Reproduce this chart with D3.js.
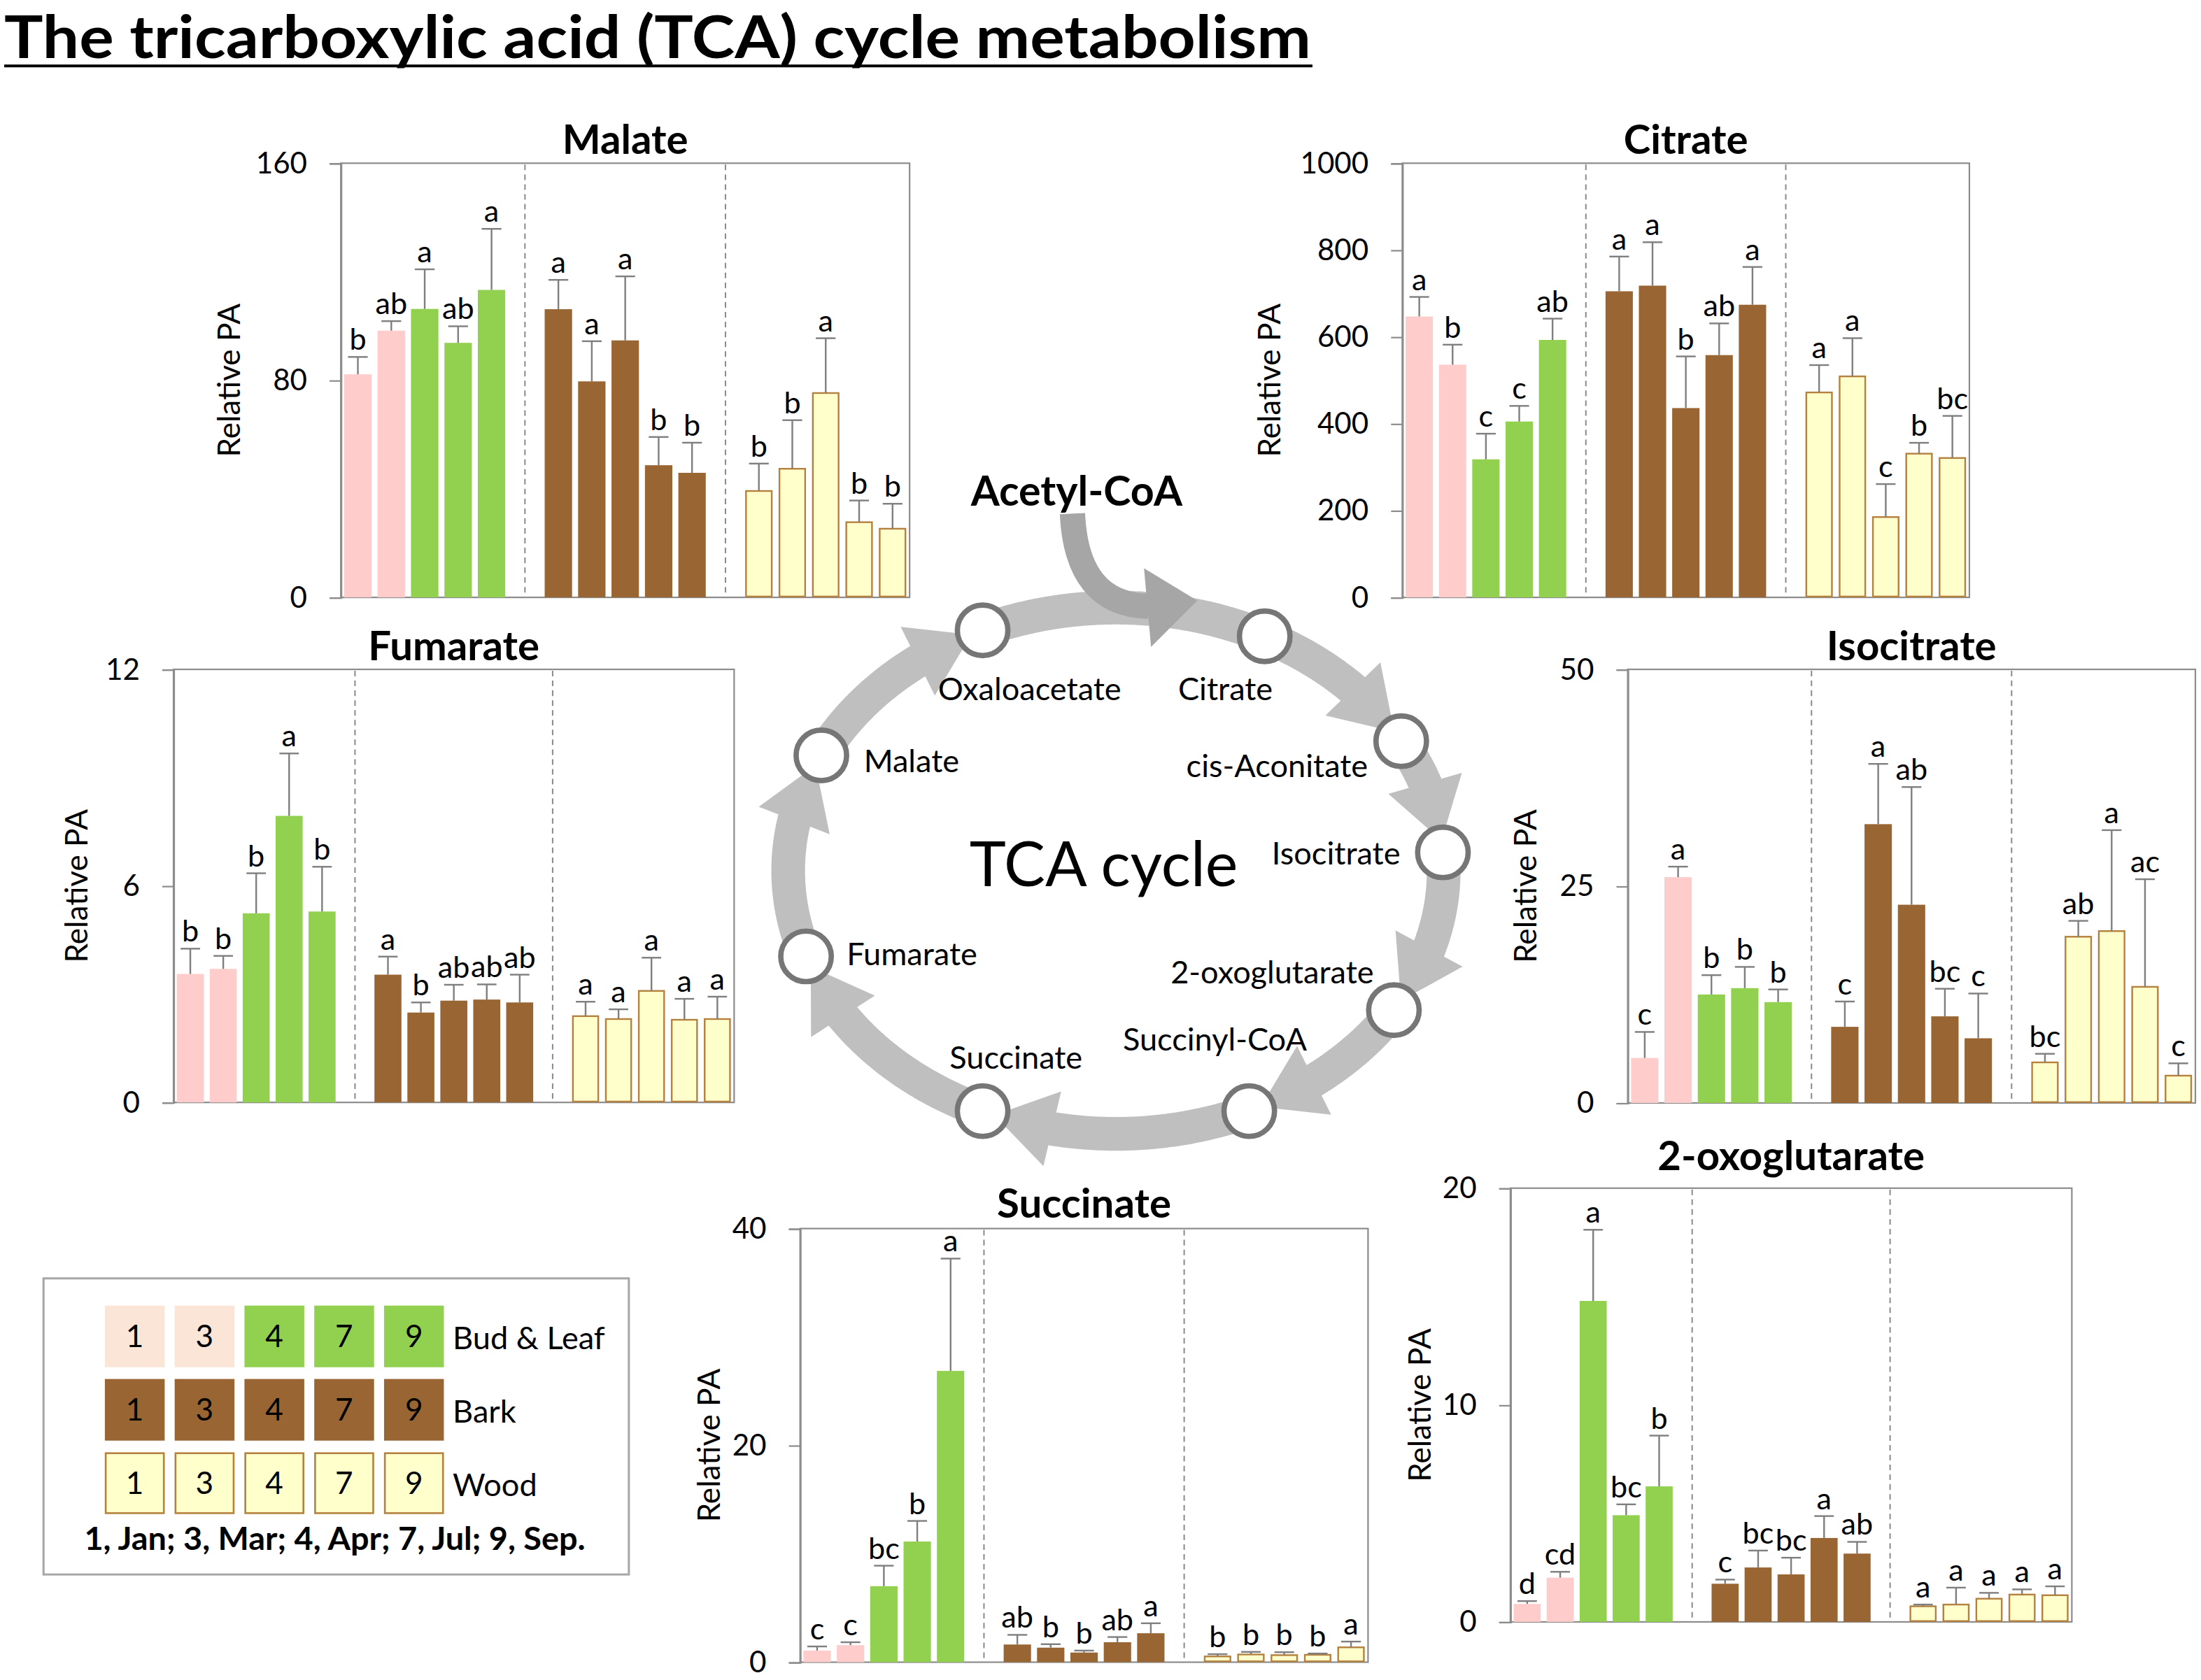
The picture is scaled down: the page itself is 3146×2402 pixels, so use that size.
<!DOCTYPE html>
<html>
<head>
<meta charset="utf-8">
<script src="https://cdn.jsdelivr.net/npm/d3@7"></script>
<style>
  body { margin: 0; background: #fff; }
  text { font-family: Lato, "Open Sans", sans-serif; }
</style>
</head>
<body>
<div id="chart"></div>
<script>
// categories
const months = ["1", "3", "4", "7", "9"];
const tissues = ["Bud & Leaf", "Bark", "Wood"];
const monthNote = "1, Jan; 3, Mar; 4, Apr; 7, Jul; 9, Sep.";

// values: 5 months x (bud&leaf, bark, wood)
const malateMean = [82.2, 98.3, 106.3, 93.8, 113.3, 106.2, 79.6, 94.7, 48.7, 45.9, 39.2, 47.4, 75.3, 27.7, 25.3];
const malateErr = [6.4, 3.5, 14.6, 6.1, 22.5, 10.8, 14.8, 23.6, 10.4, 11.1, 10.1, 17.9, 20.2, 8.0, 9.2];
const malateLetters = ["b", "ab", "a", "ab", "a", "a", "a", "a", "b", "b", "b", "b", "a", "b", "b"];
const malateTicks = [0, 80, 160];

const citrateMean = [647, 536, 318, 405, 593, 705, 718, 436, 558, 674, 472, 509, 185, 331, 321];
const citrateErr = [45, 46, 59, 36, 49, 80, 100, 119, 73, 87, 63, 88, 76, 25, 97];
const citrateLetters = ["a", "b", "c", "c", "ab", "a", "a", "b", "ab", "a", "a", "a", "c", "b", "bc"];
const citrateTicks = [0, 200, 400, 600, 800, 1000];

const fumarateMean = [3.56, 3.70, 5.24, 7.94, 5.29, 3.54, 2.49, 2.82, 2.85, 2.77, 2.39, 2.31, 3.09, 2.29, 2.31];
const fumarateErr = [0.70, 0.36, 1.11, 1.73, 1.24, 0.50, 0.28, 0.44, 0.42, 0.77, 0.40, 0.27, 0.92, 0.58, 0.62];
const fumarateLetters = ["b", "b", "b", "a", "b", "a", "b", "ab", "ab", "ab", "a", "a", "a", "a", "a"];
const fumarateTicks = [0, 6, 12];

const isocitrateMean = [5.19, 26.04, 12.51, 13.24, 11.63, 8.78, 32.15, 22.86, 9.99, 7.46, 4.68, 19.17, 19.82, 13.39, 3.15];
const isocitrateErr = [3.00, 1.21, 2.23, 2.45, 1.46, 2.92, 6.95, 13.57, 3.18, 5.16, 0.99, 1.83, 11.64, 12.41, 1.42];
const isocitrateLetters = ["c", "a", "b", "b", "b", "c", "a", "ab", "bc", "c", "bc", "ab", "a", "ac", "c"];
const isocitrateTicks = [0, 25, 50];

const succinateMean = [1.07, 1.57, 7.01, 11.13, 26.87, 1.63, 1.34, 0.89, 1.84, 2.67, 0.53, 0.71, 0.65, 0.68, 1.37];
const succinateErr = [0.38, 0.27, 1.89, 1.90, 10.36, 0.89, 0.32, 0.18, 0.48, 0.92, 0.21, 0.24, 0.27, 0.12, 0.53];
const succinateLetters = ["c", "c", "bc", "b", "a", "ab", "b", "b", "ab", "a", "b", "b", "b", "b", "a"];
const succinateTicks = [0, 20, 40];

const oxoMean = [0.83, 2.04, 14.80, 4.92, 6.25, 1.76, 2.51, 2.19, 3.87, 3.15, 0.72, 0.80, 1.07, 1.26, 1.23];
const oxoErr = [0.13, 0.27, 3.28, 0.50, 2.34, 0.19, 0.78, 0.77, 1.01, 0.54, 0.08, 0.78, 0.27, 0.24, 0.41];
const oxoLetters = ["d", "cd", "a", "bc", "b", "c", "bc", "bc", "a", "ab", "a", "a", "a", "a", "a"];
const oxoTicks = [0, 10, 20];

// TCA cycle intermediates, clockwise from oxaloacetate
const cycleNodes = ["Oxaloacetate", "Citrate", "cis-Aconitate", "Isocitrate", "2-oxoglutarate",
                    "Succinyl-CoA", "Succinate", "Fumarate", "Malate"];

const W = 1568, H = 1197.2;
const svg = d3.select("#chart").append("svg")
    .attr("width", 3146)
    .attr("height", 2402)
    .attr("viewBox", `0 0 ${W} ${H}`);

const pink = "#ffcccc", green = "#92d050", brown = "#996633", woodFill = "#ffffcc", woodLine = "#b5813e";
const axisGrey = "#8c8c8c";

function barColor(t, m) {
    if (t === 0) return m < 2 ? pink : green;
    return t === 1 ? brown : woodFill;
}

// bring a text to the width it has in the original
function fit(sel, w) {
    const len = sel.node().getComputedTextLength();
    if (Math.abs(len - w) > 2) sel.attr("textLength", w).attr("lengthAdjust", "spacingAndGlyphs");
}

// main title
const mainTitle = svg.append("text")
    .attr("x", 3).attr("y", 41.5)
    .attr("font-size", 42).attr("font-weight", "bold")
    .text("The tricarboxylic acid (TCA) cycle metabolism");
fit(mainTitle, 931);
svg.append("line")
    .attr("x1", 3).attr("x2", 935).attr("y1", 47).attr("y2", 47)
    .attr("stroke", "#000").attr("stroke-width", 2);

// ---------- TCA cycle diagram ----------
const cx = 795, cy = 620.5, rx = 233.5, ry = 187.5;
const nodeAngles = [-114, -63, -29.5, -4, 32, 66, 114, 161, 206];
const P = a => [cx + rx * Math.cos(a * Math.PI / 180), cy + ry * Math.sin(a * Math.PI / 180)];
const dist = (p, q) => Math.hypot(p[0] - q[0], p[1] - q[1]);
const arcLine = d3.line();

const cycle = svg.append("g");
nodeAngles.forEach((a0, i) => {
    let a1 = nodeAngles[(i + 1) % nodeAngles.length];
    if (a1 < a0) a1 += 360;
    const end = P(a1);
    if (i === 0) {
        // oxaloacetate -> citrate, fed by acetyl-CoA
        cycle.append("path")
            .attr("d", arcLine(d3.range(a0, a1, 0.5).concat([a1]).map(P)))
            .attr("fill", "none").attr("stroke", "#bfbfbf").attr("stroke-width", 24);
        return;
    }
    // arrow tip just inside the next circle, base ~42px back along the ellipse
    let tipA = a1;
    while (dist(P(tipA), end) < 8) tipA -= 0.2;
    const tip = P(tipA);
    let baseA = tipA;
    while (dist(P(baseA), tip) < 42) baseA -= 0.2;
    const base = P(baseA);
    cycle.append("path")
        .attr("d", arcLine(d3.range(a0, baseA, 0.5).concat([baseA + 0.5]).map(P)))
        .attr("fill", "none").attr("stroke", "#bfbfbf").attr("stroke-width", 24);
    const ux = (tip[0] - base[0]) / 42, uy = (tip[1] - base[1]) / 42;
    const hw = 27;
    cycle.append("path")
        .attr("d", `M${tip[0]},${tip[1]}L${base[0] - uy * hw},${base[1] + ux * hw}L${base[0] + uy * hw},${base[1] - ux * hw}Z`)
        .attr("fill", "#bfbfbf");
});

// acetyl-CoA feeding arrow
const acPath = d3.path();
acPath.moveTo(764, 366);
acPath.quadraticCurveTo(767, 431, 818, 432);
cycle.append("path").attr("d", acPath.toString())
    .attr("fill", "none").attr("stroke", "#a6a6a6").attr("stroke-width", 18);
cycle.append("path").attr("d", "M853,428L815,405L820,461Z").attr("fill", "#a6a6a6");

cycle.selectAll("circle.node")
    .data(nodeAngles)
    .join("circle")
    .attr("class", "node")
    .attr("cx", a => P(a)[0]).attr("cy", a => P(a)[1])
    .attr("r", 18)
    .attr("fill", "#fff").attr("stroke", "#767676").attr("stroke-width", 3.8);

const cycleLabels = [
    { x: 733.5, y: 499, a: "middle" },
    { x: 873, y: 499, a: "middle" },
    { x: 909.8, y: 553.7, a: "middle" },
    { x: 951.8, y: 616, a: "middle" },
    { x: 906.3, y: 701, a: "middle" },
    { x: 865.5, y: 748.8, a: "middle" },
    { x: 723.8, y: 761.4, a: "middle" },
    { x: 603.2, y: 687.6, a: "start" },
    { x: 615.4, y: 550.4, a: "start" }
];
cycle.selectAll("text.lab")
    .data(cycleNodes)
    .join("text")
    .attr("class", "lab")
    .attr("x", (d, i) => cycleLabels[i].x)
    .attr("y", (d, i) => cycleLabels[i].y)
    .attr("text-anchor", (d, i) => cycleLabels[i].a)
    .attr("font-size", 22.5)
    .text(d => d);

cycle.append("text").attr("x", 767).attr("y", 360.4)
    .attr("text-anchor", "middle").attr("font-size", 29.5).attr("font-weight", "bold")
    .text("Acetyl-CoA");
cycle.append("text").attr("x", 786.3).attr("y", 631.5)
    .attr("text-anchor", "middle").attr("font-size", 44)
    .text("TCA cycle");

// ---------- bar charts ----------
const charts = [
    { title: "Malate", mean: malateMean, err: malateErr, letters: malateLetters, ticks: malateTicks,
      left: 242.8, right: 648, top: 116.3, bottom: 425.7, labelX: 163, titleGap: 6.5 },
    { title: "Citrate", mean: citrateMean, err: citrateErr, letters: citrateLetters, ticks: citrateTicks,
      left: 999, right: 1403, top: 116.3, bottom: 425.7, labelX: 904, titleGap: 6.5 },
    { title: "Fumarate", mean: fumarateMean, err: fumarateErr, letters: fumarateLetters, ticks: fumarateTicks,
      left: 123.6, right: 523, top: 477, bottom: 785.6, labelX: 54.5, titleGap: 6.7 },
    { title: "Isocitrate", mean: isocitrateMean, err: isocitrateErr, letters: isocitrateLetters, ticks: isocitrateTicks,
      left: 1159.6, right: 1564, top: 477, bottom: 786, labelX: 1086.5, titleGap: 6.7 },
    { title: "Succinate", mean: succinateMean, err: succinateErr, letters: succinateLetters, ticks: succinateTicks,
      left: 570, right: 974.6, top: 875.5, bottom: 1184.5, labelX: 505, titleGap: 8 },
    { title: "2-oxoglutarate", mean: oxoMean, err: oxoErr, letters: oxoLetters, ticks: oxoTicks,
      left: 1076, right: 1476, top: 846.7, bottom: 1155.8, labelX: 1011.5, titleGap: 13 }
];

charts.forEach(c => {
    const g = svg.append("g");
    // 17 slots: 5 bars, a gap, 5 bars, a gap, 5 bars
    const x = d3.scaleBand().domain(d3.range(17)).range([c.left, c.right])
        .paddingInner(0.18).paddingOuter(0.1);
    const y = d3.scaleLinear().domain([0, d3.max(c.ticks)]).range([c.bottom, c.top]);
    const bw = x.bandwidth();

    const rows = c.mean.map((v, i) => ({
        t: Math.floor(i / 5), m: i % 5, slot: Math.floor(i / 5) * 6 + i % 5,
        mean: v, err: c.err[i], letter: c.letters[i]
    }));

    g.append("rect")
        .attr("x", c.left).attr("y", c.top)
        .attr("width", c.right - c.left).attr("height", c.bottom - c.top)
        .attr("fill", "none").attr("stroke", axisGrey).attr("stroke-width", 1.1);

    g.selectAll("line.sep")
        .data([5, 11])
        .join("line")
        .attr("class", "sep")
        .attr("x1", d => x(d) + bw / 2).attr("x2", d => x(d) + bw / 2)
        .attr("y1", c.top + 1).attr("y2", c.bottom)
        .attr("stroke", "#8a8a8a").attr("stroke-width", 1).attr("stroke-dasharray", "4,3");

    const yAxis = d3.axisLeft(y).tickValues(c.ticks).tickSize(8).tickPadding(16).tickFormat(d3.format("d"));
    const ag = g.append("g").attr("transform", `translate(${c.left},0)`).call(yAxis)
        .attr("font-family", null).attr("font-size", null);
    ag.select(".domain").attr("stroke", axisGrey).attr("stroke-width", 1.1);
    ag.selectAll(".tick line").attr("stroke", axisGrey).attr("stroke-width", 1.1);
    ag.selectAll(".tick text").attr("font-size", 21).attr("fill", "#000");

    g.selectAll("rect.bar")
        .data(rows)
        .join("rect")
        .attr("class", "bar")
        .attr("x", d => x(d.slot) + (d.t === 2 ? 0.6 : 0))
        .attr("width", d => bw - (d.t === 2 ? 1.2 : 0))
        .attr("y", d => y(d.mean))
        .attr("height", d => y(0) - y(d.mean) - (d.t === 2 ? 0.6 : 0))
        .attr("fill", d => barColor(d.t, d.m))
        .attr("stroke", d => d.t === 2 ? woodLine : "none")
        .attr("stroke-width", 1.2);

    const cap = bw * 0.72;
    g.selectAll("line.err")
        .data(rows)
        .join("line")
        .attr("class", "err")
        .attr("x1", d => x(d.slot) + bw / 2).attr("x2", d => x(d.slot) + bw / 2)
        .attr("y1", d => y(d.mean)).attr("y2", d => y(d.mean + d.err))
        .attr("stroke", "#7f7f7f").attr("stroke-width", 1.2);
    g.selectAll("line.cap")
        .data(rows)
        .join("line")
        .attr("class", "cap")
        .attr("x1", d => x(d.slot) + bw / 2 - cap / 2).attr("x2", d => x(d.slot) + bw / 2 + cap / 2)
        .attr("y1", d => y(d.mean + d.err)).attr("y2", d => y(d.mean + d.err))
        .attr("stroke", "#7f7f7f").attr("stroke-width", 1.2);

    g.selectAll("text.sig")
        .data(rows)
        .join("text")
        .attr("class", "sig")
        .attr("x", d => x(d.slot) + bw / 2)
        .attr("y", d => y(d.mean + d.err) - 5)
        .attr("text-anchor", "middle")
        .attr("font-size", 21.5)
        .text(d => d.letter);

    g.append("text")
        .attr("x", (c.left + c.right) / 2).attr("y", c.top - c.titleGap)
        .attr("text-anchor", "middle").attr("font-size", 29).attr("font-weight", "bold")
        .text(c.title);

    g.append("text")
        .attr("transform", `translate(${c.labelX},${(c.top + c.bottom) / 2}) rotate(-90)`)
        .attr("dy", "0.36em")
        .attr("text-anchor", "middle").attr("font-size", 22)
        .text("Relative PA");
});

// ---------- legend ----------
const lg = svg.append("g");
lg.append("rect").attr("x", 31).attr("y", 911).attr("width", 417).attr("height", 211)
    .attr("fill", "#fff").attr("stroke", "#a6a6a6").attr("stroke-width", 1.5);

const cellX = d3.scaleBand().domain(months).range([74.7, 74.7 + 48.3 * 5]).paddingInner(0.143).paddingOuter(0);
const rowY = d3.scaleBand().domain(tissues).range([930.4, 930.4 + 49.5 * 3]).paddingInner(0.16).paddingOuter(0);
const legendCells = tissues.flatMap((t, ti) => months.map((m, mi) => ({ t, ti, m, mi })));

lg.selectAll("rect.cell")
    .data(legendCells)
    .join("rect")
    .attr("class", "cell")
    .attr("x", d => cellX(d.m) + (d.ti === 2 ? 0.6 : 0))
    .attr("y", d => rowY(d.t) + (d.ti === 2 ? 0.6 : 0))
    .attr("width", d => cellX.bandwidth() - (d.ti === 2 ? 1.2 : 0))
    .attr("height", d => rowY.bandwidth() - (d.ti === 2 ? 1.2 : 0))
    .attr("fill", d => d.ti === 0 && d.mi < 2 ? "#fbe5d6" : barColor(d.ti, d.mi))
    .attr("stroke", d => d.ti === 2 ? woodLine : "none")
    .attr("stroke-width", 1.3);

lg.selectAll("text.cellnum")
    .data(legendCells)
    .join("text")
    .attr("class", "cellnum")
    .attr("x", d => cellX(d.m) + cellX.bandwidth() / 2)
    .attr("y", d => rowY(d.t) + rowY.bandwidth() / 2 + 7.8)
    .attr("text-anchor", "middle").attr("font-size", 22)
    .text(d => d.m);

lg.selectAll("text.tissue")
    .data(tissues)
    .join("text")
    .attr("class", "tissue")
    .attr("x", 322.5)
    .attr("y", d => rowY(d) + rowY.bandwidth() / 2 + 9)
    .attr("font-size", 22.5)
    .text(d => d);

const note = lg.append("text")
    .attr("x", 60).attr("y", 1104.5)
    .attr("font-size", 22.5).attr("font-weight", "bold")
    .text(monthNote);
fit(note, 357);
</script>
</body>
</html>
